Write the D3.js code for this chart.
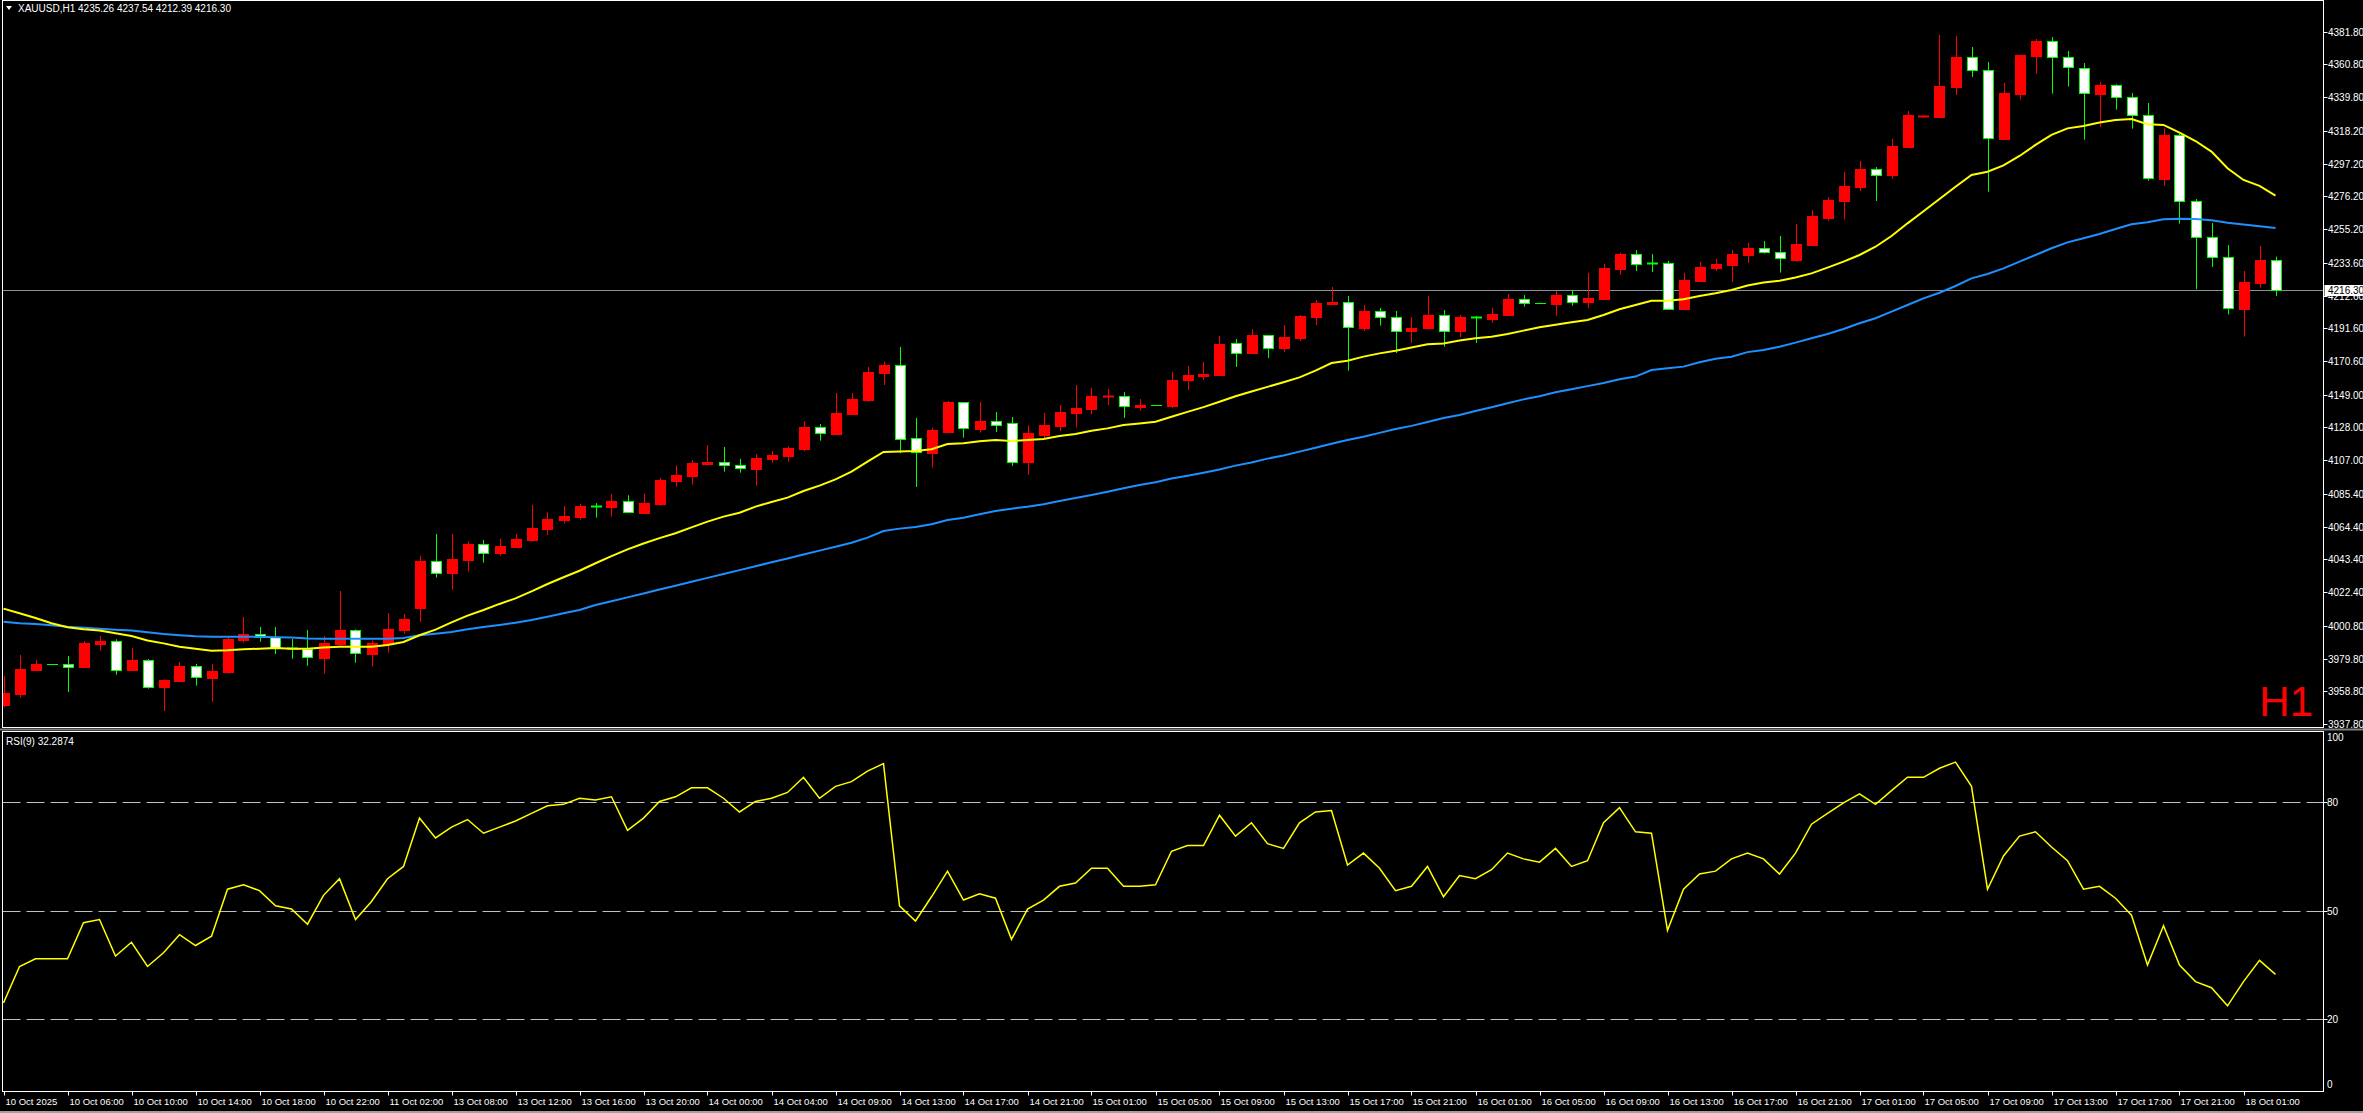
<!DOCTYPE html>
<html>
<head>
<meta charset="utf-8">
<script src="https://cdn.jsdelivr.net/npm/d3@7"></script>
<style>
  html, body { margin: 0; padding: 0; background: #000; }
  svg { display: block; }
  text { font-family: "Liberation Sans", Arial, sans-serif; fill: #fff; }
</style>
</head>
<body>
<svg id="chart" width="2363" height="1113"></svg>
<script>
// ---------------- DATA ----------------
const symbol = "XAUUSD,H1";
const headerValues = ["4235.26", "4237.54", "4212.39", "4216.30"];
const rsiTitle = "RSI(9) 32.2874";
const lastPrice = 4216.30;

const open = [3950.0,3957.3,3972.7,3976.1,3976.3,3974.4,3989.1,3990.8,3972.7,3978.6,3961.7,3965.4,3974.8,3967.5,3971.4,3991.9,3995.3,3993.8,3986.4,3985.7,3980.3,3989.3,3997.9,3982.9,3989.3,3998.3,4012.4,4042.1,4034.9,4043.2,4053.0,4047.7,4051.5,4056.0,4062.9,4068.9,4070.8,4077.4,4077.2,4080.6,4073.3,4079.1,4093.9,4097.1,4104.8,4105.6,4103.7,4101.4,4107.8,4109.9,4114.2,4128.1,4124.0,4136.8,4145.6,4163.1,4167.8,4121.0,4111.8,4124.9,4144.1,4127.2,4131.9,4130.9,4106.1,4123.2,4128.9,4137.3,4139.8,4147.5,4148.0,4141.1,4142.3,4141.8,4158.6,4161.0,4161.6,4181.9,4175.7,4187.1,4179.0,4185.4,4198.8,4207.4,4208.2,4192.0,4202.5,4198.6,4190.1,4192.0,4199.9,4189.9,4198.6,4197.6,4200.1,4210.2,4207.7,4207.4,4212.7,4208.5,4210.4,4229.6,4239.0,4233.3,4233.3,4204.0,4221.9,4230.3,4232.2,4238.6,4242.9,4240.3,4235.6,4245.0,4262.5,4273.2,4282.2,4293.5,4289.9,4307.9,4327.3,4327.1,4346.3,4365.4,4357.0,4313.0,4342.1,4366.4,4375.6,4365.4,4358.7,4342.1,4347.4,4339.7,4328.2,4287.6,4315.3,4273.0,4249.9,4237.1,4204.2,4220.9,4235.26];
const high = [3968.6,3982.1,3978.9,3976.3,3981.4,3991.0,3994.2,3992.1,3986.5,3979.5,3966.5,3977.6,3976.3,3976.3,3994.2,4006.4,4000.0,4000.0,3992.3,3998.1,3994.2,4023.1,3998.5,3991.3,4009.0,4008.4,4045.6,4059.7,4059.7,4055.0,4055.8,4056.5,4059.7,4078.3,4073.6,4077.6,4078.9,4079.5,4085.3,4084.5,4085.7,4095.6,4103.7,4107.1,4116.7,4115.5,4107.8,4110.8,4112.9,4115.7,4132.1,4130.2,4150.1,4150.1,4166.8,4170.2,4179.6,4134.1,4127.9,4145.0,4144.3,4144.3,4137.9,4134.7,4129.4,4137.3,4142.4,4155.2,4153.3,4152.7,4150.7,4146.2,4142.4,4163.6,4167.4,4170.0,4186.6,4184.7,4191.1,4187.3,4193.7,4200.1,4209.7,4218.1,4212.3,4206.5,4204.6,4202.7,4198.8,4212.3,4203.3,4200.1,4199.5,4204.6,4213.6,4212.9,4208.0,4215.5,4216.2,4227.1,4232.8,4240.1,4241.8,4239.2,4234.8,4227.1,4234.1,4236.0,4241.8,4246.3,4247.6,4250.8,4258.5,4267.5,4275.8,4291.8,4298.9,4295.0,4313.0,4331.0,4328.2,4379.7,4379.1,4372.0,4362.4,4348.9,4366.9,4377.1,4378.4,4369.4,4361.7,4349.6,4348.1,4342.5,4336.1,4319.8,4316.2,4274.5,4259.1,4245.0,4228.3,4244.4,4237.54];
const low = [3948.5,3954.7,3972.6,3975.9,3958.3,3974.0,3984.8,3969.4,3972.5,3960.5,3946.1,3965.0,3962.4,3952.1,3970.1,3990.0,3990.6,3982.7,3979.7,3975.2,3970.1,3988.0,3977.1,3974.6,3983.6,3995.7,4003.4,4031.7,4024.0,4035.5,4041.3,4045.8,4050.9,4054.7,4059.0,4066.3,4068.9,4070.1,4070.8,4073.3,4072.9,4077.8,4090.0,4091.3,4103.5,4099.6,4099.0,4090.7,4105.4,4106.1,4112.7,4119.5,4123.2,4136.8,4144.5,4155.2,4111.4,4089.8,4102.2,4124.4,4121.4,4124.7,4125.1,4103.3,4097.5,4120.8,4125.7,4127.9,4136.6,4142.4,4134.1,4138.6,4142.0,4140.5,4152.0,4158.4,4161.0,4166.8,4175.5,4172.5,4176.4,4183.4,4193.7,4206.5,4164.4,4189.9,4193.3,4175.7,4182.2,4190.9,4179.8,4186.0,4182.2,4195.0,4200.0,4205.5,4207.3,4199.5,4206.1,4204.6,4210.0,4225.8,4228.3,4227.7,4203.3,4203.3,4221.8,4228.3,4221.3,4233.5,4239.5,4227.3,4234.3,4244.8,4260.6,4261.3,4279.6,4273.2,4287.3,4307.2,4327.1,4326.5,4341.2,4352.8,4279.2,4312.6,4338.2,4354.9,4342.1,4346.6,4312.6,4320.7,4331.8,4319.6,4286.3,4283.1,4258.7,4216.6,4230.9,4200.5,4186.2,4217.6,4212.39];
const close = [3957.5,3973.1,3976.3,3976.0,3974.6,3989.8,3991.0,3972.7,3978.9,3961.7,3966.0,3975.0,3967.7,3971.8,3992.3,3995.5,3993.8,3986.8,3986.1,3980.6,3989.8,3998.1,3983.1,3989.5,3998.7,4005.1,4042.3,4034.9,4043.6,4053.2,4047.7,4052.0,4056.5,4063.5,4069.3,4071.2,4077.6,4077.0,4080.8,4073.6,4079.3,4094.3,4097.5,4105.2,4106.1,4103.7,4101.8,4108.4,4110.3,4114.8,4128.3,4124.2,4137.3,4146.2,4163.6,4167.8,4120.8,4112.0,4126.4,4144.3,4127.4,4131.9,4129.8,4106.1,4124.4,4129.4,4137.9,4140.5,4148.2,4148.4,4141.5,4142.4,4142.1,4158.4,4161.6,4162.3,4181.5,4176.0,4187.3,4179.2,4186.0,4199.5,4207.8,4208.5,4192.2,4202.7,4198.6,4190.1,4191.6,4200.1,4190.1,4198.8,4198.2,4200.8,4210.4,4208.0,4207.5,4212.9,4208.7,4211.0,4230.3,4239.2,4233.0,4233.1,4204.2,4222.6,4230.9,4232.8,4239.2,4243.1,4240.3,4236.5,4245.7,4263.6,4273.9,4282.9,4293.8,4290.1,4308.5,4328.4,4327.8,4347.0,4365.6,4357.0,4313.4,4342.5,4366.9,4375.6,4365.4,4359.0,4342.3,4347.4,4339.7,4328.2,4287.8,4315.3,4273.0,4249.9,4237.1,4204.4,4221.3,4235.4,4216.30];

// moving averages (yellow = fast, blue = slow), read per bar
const maFast = [4011.8,4008.8,4005.8,4002.4,3999.8,3998.5,3997.7,3996.0,3994.2,3991.3,3989.5,3987.4,3986.1,3984.8,3985.1,3985.7,3986.1,3986.5,3986.1,3986.1,3986.8,3987.4,3987.4,3987.4,3988.5,3990.4,3994.7,3998.3,4003.0,4007.3,4010.9,4014.8,4018.4,4022.9,4027.6,4031.9,4036.1,4040.9,4045.5,4049.8,4053.6,4057.0,4060.1,4063.9,4067.6,4070.8,4073.3,4077.2,4080.2,4083.0,4087.2,4090.7,4094.7,4099.6,4106.1,4112.3,4112.5,4112.9,4114.0,4117.4,4117.8,4119.1,4120.0,4119.3,4120.0,4120.6,4122.5,4123.8,4125.9,4127.4,4129.6,4130.6,4131.7,4134.9,4138.0,4141.0,4144.5,4148.0,4151.0,4154.0,4157.0,4160.1,4164.4,4169.3,4170.8,4173.4,4175.5,4177.2,4179.2,4181.3,4181.9,4183.7,4185.2,4186.2,4187.9,4190.1,4192.2,4193.9,4195.4,4196.9,4200.1,4203.8,4206.5,4209.3,4209.3,4210.2,4212.3,4214.0,4216.2,4219.0,4220.9,4222.1,4224.1,4226.8,4230.5,4234.3,4238.6,4243.9,4250.8,4258.9,4266.6,4274.5,4282.4,4289.9,4292.0,4296.1,4302.1,4309.2,4315.6,4319.8,4321.3,4323.5,4325.2,4325.8,4322.4,4322.0,4317.1,4311.7,4304.9,4294.2,4286.7,4282.9,4276.7];
const maSlow = [4003.4,4002.4,4001.9,4001.1,4000.2,3999.6,3998.9,3998.3,3997.7,3996.6,3995.5,3994.7,3994.0,3993.8,3993.8,3993.8,3993.8,3993.4,3993.2,3992.7,3992.5,3992.5,3992.5,3992.5,3992.5,3993.0,3994.7,3995.7,3996.8,3998.5,4000.0,4001.3,4002.8,4004.5,4006.6,4008.8,4010.9,4014.1,4016.5,4019.0,4021.5,4024.0,4026.5,4029.0,4031.5,4034.0,4036.5,4039.0,4041.5,4044.0,4046.5,4049.0,4051.5,4054.0,4057.3,4061.6,4063.1,4064.2,4065.9,4068.6,4070.1,4072.3,4074.4,4075.9,4077.2,4078.7,4080.8,4082.8,4084.7,4086.8,4089.0,4091.1,4092.8,4095.2,4097.0,4099.0,4101.0,4103.5,4105.5,4108.0,4110.0,4112.5,4115.0,4117.5,4120.0,4122.0,4124.5,4127.0,4129.0,4131.5,4134.0,4136.0,4138.5,4141.0,4143.5,4146.0,4148.0,4150.5,4152.5,4154.5,4156.5,4158.9,4160.6,4164.8,4165.9,4167.0,4169.8,4172.1,4173.4,4176.3,4177.7,4179.8,4182.4,4185.2,4187.9,4191.1,4194.8,4198.0,4202.3,4206.5,4210.8,4214.4,4218.7,4223.6,4226.4,4230.0,4234.3,4238.6,4242.9,4246.7,4249.3,4252.1,4255.3,4258.3,4259.6,4261.5,4261.9,4261.7,4260.8,4259.3,4258.1,4257.0,4255.9];

const rsi = [24.4,34.5,36.6,36.6,36.6,46.6,47.5,37.4,41.2,34.5,38.3,43.3,40.3,42.9,55.9,57.1,55.5,51.3,50.4,46.2,54.2,58.8,47.5,52.5,58.8,62.2,75.6,70.1,73.1,75.2,71.4,73.1,74.8,76.9,79.0,79.4,81.1,80.6,81.5,72.2,75.6,80.2,81.5,84.0,84.0,81.1,77.3,80.2,81.1,82.7,86.9,81.1,84.4,85.7,88.6,90.7,51.3,47.1,53.8,60.9,52.9,54.6,53.4,42.0,50.4,52.9,56.7,57.6,61.7,61.7,56.7,56.7,57.1,66.4,68.0,68.0,76.4,70.6,74.3,68.5,67.2,74.3,77.3,77.7,62.6,65.9,61.7,55.5,56.7,62.2,53.8,59.7,58.8,61.3,65.9,64.3,63.4,67.2,62.2,63.8,74.3,78.5,71.8,71.4,44.5,55.9,60.1,60.9,64.3,65.9,64.3,60.1,65.9,73.9,76.9,79.8,82.3,79.4,83.2,86.9,86.9,89.4,91.1,84.4,55.9,65.1,70.6,71.8,67.6,63.8,55.9,56.7,53.4,48.7,34.9,45.8,34.9,30.3,28.6,23.6,30.3,36.2,32.3];

const timeLabels = ["10 Oct 2025","10 Oct 06:00","10 Oct 10:00","10 Oct 14:00","10 Oct 18:00","10 Oct 22:00","11 Oct 02:00","13 Oct 08:00","13 Oct 12:00","13 Oct 16:00","13 Oct 20:00","14 Oct 00:00","14 Oct 04:00","14 Oct 09:00","14 Oct 13:00","14 Oct 17:00","14 Oct 21:00","15 Oct 01:00","15 Oct 05:00","15 Oct 09:00","15 Oct 13:00","15 Oct 17:00","15 Oct 21:00","16 Oct 01:00","16 Oct 05:00","16 Oct 09:00","16 Oct 13:00","16 Oct 17:00","16 Oct 21:00","17 Oct 01:00","17 Oct 05:00","17 Oct 09:00","17 Oct 13:00","17 Oct 17:00","17 Oct 21:00","18 Oct 01:00"];
const labelEvery = 4;
const priceTicks = [4381.80,4360.80,4339.80,4318.20,4297.20,4276.20,4255.20,4233.60,4212.60,4191.60,4170.60,4149.00,4128.00,4107.00,4085.40,4064.40,4043.40,4022.40,4000.80,3979.80,3958.80,3937.80];
const rsiLevels = [80, 50, 20];
const rsiLabels = [100, 80, 50, 20, 0];

// ---------------- LAYOUT ----------------
const W = 2363, H = 1113;
const plotL = 2.5, plotR = 2323.5;
const mainTop = 0.5, mainBot = 727.5;
const rsiTop = 731.5, rsiBot = 1091.5;

const svg = d3.select("#chart");
svg.append("rect").attr("width", W).attr("height", H).attr("fill", "#000");

const n = close.length;
const x = d3.scaleLinear().domain([0, n - 1]).range([3.5, 3.5 + 16 * (n - 1)]);
const y = d3.scaleLinear().domain([3937.8, 4381.8]).range([724, 31.7]);
const yr = d3.scaleLinear().domain([0, 100]).range([1091, 730]);

const clipMain = svg.append("clipPath").attr("id", "clipMain")
  .append("rect").attr("x", plotL).attr("y", mainTop).attr("width", plotR - plotL).attr("height", mainBot - mainTop);
const clipRsi = svg.append("clipPath").attr("id", "clipRsi")
  .append("rect").attr("x", plotL).attr("y", rsiTop).attr("width", plotR - plotL).attr("height", rsiBot - rsiTop);

const gMain = svg.append("g").attr("clip-path", "url(#clipMain)");
const gRsi = svg.append("g").attr("clip-path", "url(#clipRsi)");

// current price line
gMain.append("line")
  .attr("x1", plotL).attr("x2", plotR)
  .attr("y1", Math.round(y(lastPrice)) + 0.5).attr("y2", Math.round(y(lastPrice)) + 0.5)
  .attr("stroke", "#8c8f98").attr("stroke-width", 1);

// candles
const bars = d3.range(n).map(i => ({ i, o: open[i], h: high[i], l: low[i], c: close[i] }));
const up = "#ff0000", dnStroke = "#00ff00", dnFill = "#ffffff";
const cg = gMain.append("g");
bars.forEach(d => {
  const cx = Math.round(x(d.i)) + 0.5;
  const bull = d.c > d.o;
  const col = bull ? up : dnStroke;
  cg.append("line").attr("x1", cx).attr("x2", cx)
    .attr("y1", y(d.h)).attr("y2", y(d.l))
    .attr("stroke", col).attr("stroke-width", 1);
  const top = Math.round(y(Math.max(d.o, d.c)));
  const bot = Math.round(y(Math.min(d.o, d.c)));
  const hgt = bot - top;
  if (hgt < 2) {
    cg.append("line").attr("x1", cx - 5.5).attr("x2", cx + 5.5)
      .attr("y1", top + 0.5).attr("y2", top + 0.5)
      .attr("stroke", col).attr("stroke-width", Math.max(1, hgt + 1));
  } else {
    cg.append("rect").attr("x", cx - 5).attr("y", top + 0.5)
      .attr("width", 10).attr("height", hgt)
      .attr("fill", bull ? up : dnFill).attr("stroke", col).attr("stroke-width", 1);
  }
});

// moving averages
const lineMain = arr => d3.line().x((d, i) => x(i)).y(d => y(d))(arr);
gMain.append("path").attr("d", lineMain(maSlow)).attr("fill", "none")
  .attr("stroke", "#1e90ff").attr("stroke-width", 2);
gMain.append("path").attr("d", lineMain(maFast)).attr("fill", "none")
  .attr("stroke", "#ffff00").attr("stroke-width", 2);

// RSI levels and line
rsiLevels.forEach(v => {
  gRsi.append("line").attr("x1", plotL).attr("x2", plotR)
    .attr("y1", Math.round(yr(v)) + 0.5).attr("y2", Math.round(yr(v)) + 0.5)
    .attr("stroke", "#c0c0c0").attr("stroke-width", 1).attr("stroke-dasharray", "18,6");
});
gRsi.append("path")
  .attr("d", d3.line().x((d, i) => x(i)).y(d => yr(d))(rsi))
  .attr("fill", "none").attr("stroke", "#ffff00").attr("stroke-width", 1.5);

// frames
svg.append("rect").attr("x", plotL).attr("y", mainTop).attr("width", plotR - plotL).attr("height", mainBot - mainTop)
  .attr("fill", "none").attr("stroke", "#fff").attr("stroke-width", 1);
svg.append("rect").attr("x", plotL).attr("y", rsiTop).attr("width", plotR - plotL).attr("height", rsiBot - rsiTop)
  .attr("fill", "none").attr("stroke", "#fff").attr("stroke-width", 1);
svg.append("line").attr("x1", 0).attr("x2", W).attr("y1", 729.5).attr("y2", 729.5)
  .attr("stroke", "#808080").attr("stroke-width", 2);

// price axis
const pa = svg.append("g");
priceTicks.forEach(v => {
  const yy = Math.round(y(v)) + 0.5;
  pa.append("line").attr("x1", plotR).attr("x2", plotR + 4).attr("y1", yy).attr("y2", yy)
    .attr("stroke", "#fff");
  pa.append("text").attr("x", 2328).attr("y", yy + 3.5)
    .attr("font-size", "10px").text(d3.format(".2f")(v));
});
// current price box
const ly = Math.round(y(lastPrice));
pa.append("rect").attr("x", plotR + 1).attr("y", ly - 5).attr("width", W - plotR - 1).attr("height", 11)
  .attr("fill", "#fff");
pa.append("text").attr("x", 2328).attr("y", ly + 4).attr("font-size", "10px")
  .style("fill", "#000").text(d3.format(".2f")(lastPrice));

// RSI axis
rsiLabels.forEach(v => {
  const yy = Math.round(yr(v)) + 0.5;
  let ty = yy + 3.5;
  if (v === 100) ty = 741;
  if (v === 0) ty = 1088;
  if (v !== 100 && v !== 0) {
    svg.append("line").attr("x1", plotR).attr("x2", plotR + 4).attr("y1", yy).attr("y2", yy).attr("stroke", "#fff");
  }
  svg.append("text").attr("x", 2327).attr("y", ty).attr("font-size", "10px").text(v);
});

// time axis
const ta = svg.append("g");
timeLabels.forEach((t, k) => {
  const xx = Math.round(x(k * labelEvery)) + 0.5;
  ta.append("line").attr("x1", xx).attr("x2", xx).attr("y1", rsiBot).attr("y2", rsiBot + 4).attr("stroke", "#fff");
  ta.append("text").attr("x", xx + 1).attr("y", 1105).attr("font-size", "9.5px").text(t);
});
svg.append("line").attr("x1", 0).attr("x2", W).attr("y1", 1112).attr("y2", 1112).attr("stroke", "#a0a0a0").attr("stroke-width", 2);

// header
svg.append("path").attr("d", "M6,6 L12,6 L9,10 Z").attr("fill", "#fff");
svg.append("text").attr("x", 18).attr("y", 12).attr("font-size", "10px")
  .text(symbol + "  " + headerValues.join(" "));
svg.append("text").attr("x", 6).attr("y", 745).attr("font-size", "10px").text(rsiTitle);

// timeframe mark
svg.append("text").attr("x", 2313).attr("y", 716).attr("text-anchor", "end")
  .attr("font-size", "42px").style("fill", "#ff0000").text("H1");
</script>
</body>
</html>
